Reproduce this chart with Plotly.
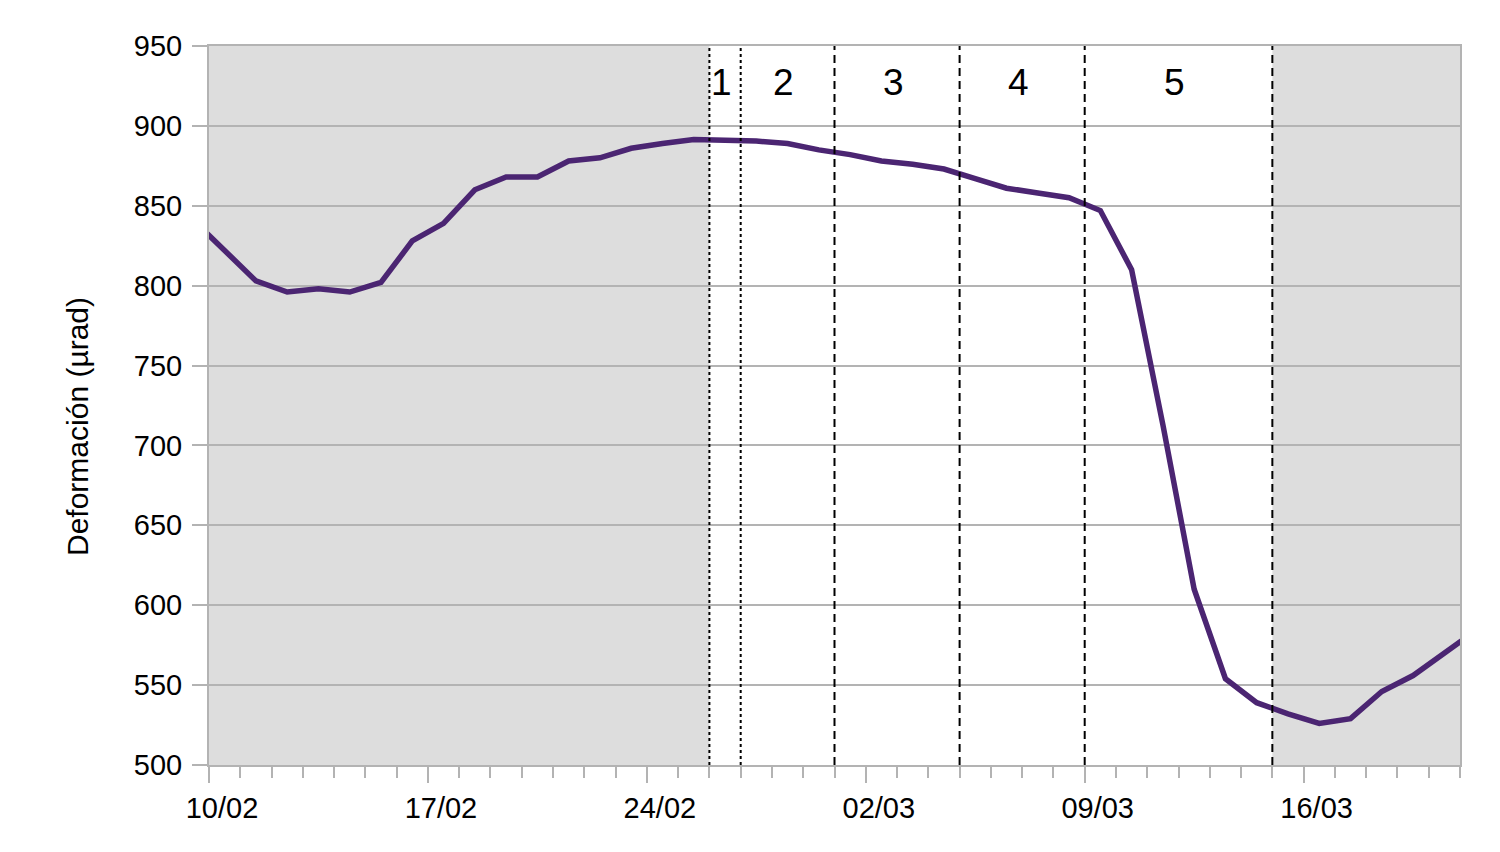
import pandas as pd
import plotly.graph_objects as go

# Daily values (plotted at midday), starting 09/02 12:00
start_date = "2024-02-09 12:00"
deformation = [841, 822, 803, 796, 798, 796, 802, 828, 839, 860,
               868, 868, 878, 880, 886, 889, 891.5, 891, 890.5, 889,
               885, 882, 878, 876, 873, 867, 861, 858, 855, 847,
               810, 713, 610, 554, 539, 532, 526, 529, 546, 556,
               570, 584]
dates = pd.date_range(start_date, periods=len(deformation), freq="D")

# Phase boundaries and labels
phase_bounds = ["2024-02-26", "2024-02-27", "2024-03-01", "2024-03-05", "2024-03-09", "2024-03-15"]
phase_dash = ["3px,3px", "3px,3px", "8px,5px", "8px,5px", "8px,5px", "8px,5px"]
phase_labels = ["1", "2", "3", "4", "5"]

x_range = ["2024-02-10", "2024-03-21"]
y_range = [500, 950]
y_title = "Deformación (µrad)"

FONT = "Liberation Sans, Arial, sans-serif"
GRID = "#b3b3b3"
SHADE = "#dddddd"
LINE = "#4b2572"

fig = go.Figure()
fig.add_trace(go.Scatter(x=dates, y=deformation, mode="lines",
                         line=dict(color=LINE, width=5.5), showlegend=False))

# shaded (outside) periods
fig.add_vrect(x0=x_range[0], x1=phase_bounds[0], fillcolor=SHADE, line_width=0, layer="below")
fig.add_vrect(x0=phase_bounds[-1], x1=x_range[1], fillcolor=SHADE, line_width=0, layer="below")

for b, d in zip(phase_bounds, phase_dash):
    fig.add_shape(type="line", xref="x", yref="paper", x0=b, x1=b, y0=0, y1=1,
                  line=dict(color="black", width=2, dash=d), layer="above")

bts = pd.to_datetime(phase_bounds)
for i, lab in enumerate(phase_labels):
    mid = bts[i] + (bts[i + 1] - bts[i]) / 2 - pd.Timedelta(hours=3)
    fig.add_annotation(x=mid, y=927, xref="x", yref="y", text=lab, showarrow=False,
                       font=dict(family=FONT, size=37, color="black"))

# y-axis title (placed as in the original, slightly below centre)
fig.add_annotation(x=-0.105, y=0.471, xref="paper", yref="paper", text=y_title,
                   textangle=-90, showarrow=False, xanchor="center", yanchor="middle",
                   font=dict(family=FONT, size=30, color="black"))

fig.update_layout(
    width=1500, height=852,
    margin=dict(l=201, r=48, t=38, b=95),
    paper_bgcolor="white", plot_bgcolor="white",
    font=dict(family=FONT, size=28, color="black"),
)
fig.update_xaxes(
    range=x_range, type="date",
    tick0="2024-02-10", dtick=7 * 86400000, tickformat="%d/%m",
    ticks="outside", ticklen=16, tickwidth=2, tickcolor=GRID,
    ticklabelshift=13,
    minor=dict(dtick=86400000, tick0="2024-02-10", ticks="outside", ticklen=11,
               tickwidth=2, tickcolor=GRID, showgrid=False),
    showgrid=False, showline=True, linecolor=GRID, linewidth=2, mirror=True,
    tickfont=dict(family=FONT, size=29, color="black"),
    zeroline=False,
)
fig.update_yaxes(
    range=y_range, dtick=50, tick0=500,
    ticks="outside", ticklen=15, tickwidth=2, tickcolor=GRID,
    ticklabelstandoff=4,
    showgrid=True, gridcolor=GRID, gridwidth=2,
    showline=True, linecolor=GRID, linewidth=2, mirror=True,
    tickfont=dict(family=FONT, size=29, color="black"),
    zeroline=False,
)

fig.write_html("out.html")
